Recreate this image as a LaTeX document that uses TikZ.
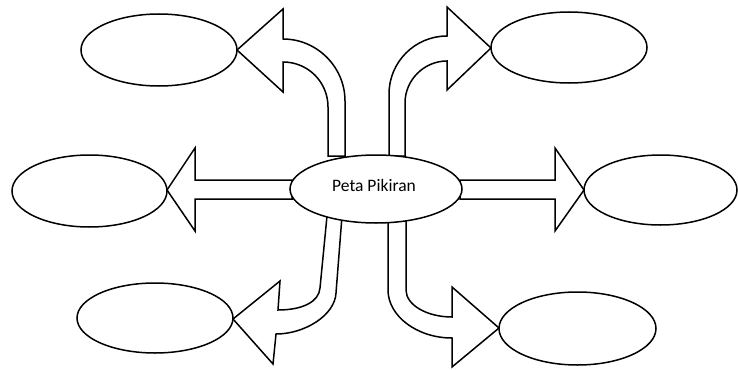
\documentclass[tikz,border=0pt]{standalone}
\usepackage{fontspec}
\setmainfont{Carlito}
\usetikzlibrary{shapes.geometric}
\begin{document}
\begin{tikzpicture}[x=1pt,y=-1pt,
  blockarrow/.style={draw=black,fill=white,line width=1.5pt,line join=miter},
  bubble/.style={ellipse,draw=black,fill=white,line width=1.5pt,inner sep=0pt}]
\useasboundingbox (0,0) rectangle (738,369);
% block arrows
\draw[blockarrow] (345,156) -- (345,101) .. controls (345,67) and (317,39) .. (283,39) -- (283,9) -- (237,50) -- (283,92) -- (283,62) .. controls (308,62) and (328,82) .. (328,107) -- (328,156) -- cycle;
\draw[blockarrow] (389,156) -- (389,94) .. controls (389,62) and (415,36) .. (447,36) -- (447,7) -- (491,48) -- (447,90) -- (447,61) .. controls (424,61) and (405,80) .. (405,103) -- (405,156) -- cycle;
\draw[blockarrow] (292,180) -- (195,180) -- (195,148) -- (167,190) -- (195,231) -- (195,199) -- (292,199) -- cycle;
\draw[blockarrow] (460,180) -- (555,180) -- (555,148) -- (584,190) -- (555,231) -- (555,199) -- (460,199) -- cycle;
\draw[blockarrow] (327,216) -- (320,288) .. controls (319,302) and (302,310) .. (278,310) -- (280,281) -- (233,319) -- (273,364) -- (276,334) .. controls (305,334) and (335,315) .. (336,293) -- (342,216) -- cycle;
\draw[blockarrow] (388,218) -- (388,290) .. controls (388,316) and (417,338) .. (452,338) -- (452,367) -- (499,328) -- (452,287) -- (452,317) .. controls (427,317) and (406,305) .. (406,290) -- (406,218) -- cycle;
% ellipses
\node[bubble,minimum width=172pt,minimum height=68pt] (c) at (376,189) {};
\node[inner sep=0pt,font=\fontsize{17.5}{20}\selectfont] (ct) at (374,185) {Peta Pikiran};
\node[bubble,minimum width=156pt,minimum height=72pt] (e1) at (159,50) {};
\node[bubble,minimum width=156pt,minimum height=71pt] (e2) at (569,47.5) {};
\node[bubble,minimum width=155pt,minimum height=72pt] (e3) at (89.5,191) {};
\node[bubble,minimum width=153pt,minimum height=70pt] (e4) at (660.5,190) {};
\node[bubble,minimum width=156pt,minimum height=70pt] (e5) at (155,318) {};
\node[bubble,minimum width=157pt,minimum height=73pt] (e6) at (577.5,328.5) {};
\end{tikzpicture}
\end{document}
